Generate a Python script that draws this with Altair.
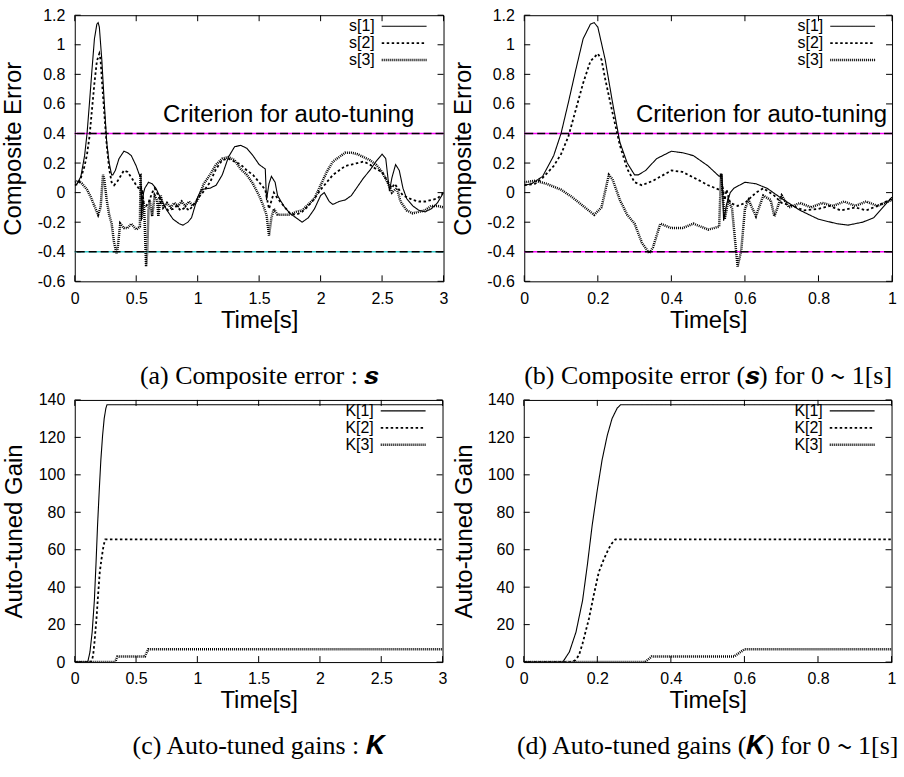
import altair as alt
import pandas as pd

# ---------------- composite error s ----------------
s_names = ["s[1]", "s[2]", "s[3]"]
s1_t = [0, 0.02, 0.05, 0.08, 0.1, 0.12, 0.14, 0.16, 0.18, 0.19, 0.2, 0.22, 0.24, 0.26, 0.28, 0.3, 0.31,
        0.33, 0.36, 0.4, 0.43, 0.46, 0.5, 0.53, 0.538, 0.542, 0.55, 0.56, 0.57, 0.6, 0.63, 0.66, 0.7,
        0.75, 0.8, 0.85, 0.88, 0.92, 0.95, 1.0, 1.03, 1.1, 1.15, 1.2, 1.25, 1.3, 1.35, 1.4, 1.45, 1.5,
        1.55, 1.56, 1.58, 1.6, 1.63, 1.65, 1.7, 1.75, 1.8, 1.85, 1.9, 1.95, 2.0, 2.03, 2.07, 2.1, 2.15,
        2.2, 2.25, 2.3, 2.35, 2.4, 2.45, 2.5, 2.53, 2.56, 2.58, 2.61, 2.64, 2.67, 2.7, 2.75, 2.8, 2.85,
        2.9, 2.95, 3.0]
s1_v = [0.05, 0.06, 0.11, 0.25, 0.40, 0.61, 0.83, 1.04, 1.14, 1.15, 1.12, 0.90, 0.61, 0.34, 0.20, 0.12, 0.12,
        0.15, 0.23, 0.28, 0.27, 0.25, 0.18, 0.11, 0.12, -0.19, -0.08, 0.0, 0.03, 0.07, 0.06, 0.03, -0.04,
        -0.12, -0.18, -0.21, -0.22, -0.20, -0.17, -0.03, 0.02, 0.03, 0.05, 0.12, 0.24, 0.31, 0.32, 0.30, 0.25, 0.19,
        0.16, -0.05, 0.06, 0.11, 0.07, -0.02, -0.09, -0.14, -0.17, -0.20, -0.17, -0.11, -0.02, 0.0, -0.06, -0.08, -0.06,
        -0.05, -0.02, 0.04, 0.10, 0.15, 0.21, 0.26, 0.23, 0.01, 0.10, 0.19, 0.15, 0.03, -0.04, -0.09, -0.12, -0.13,
        -0.11, -0.07, 0.0]

s2_t = [0, 0.03, 0.05, 0.08, 0.1, 0.12, 0.14, 0.16, 0.18, 0.2, 0.21, 0.22, 0.24, 0.26, 0.28, 0.3, 0.32, 0.35,
        0.4, 0.43, 0.47, 0.5, 0.53, 0.54, 0.545, 0.55, 0.56, 0.58, 0.6, 0.63, 0.65, 0.68, 0.7, 0.73, 0.76, 0.8,
        0.83, 0.86, 0.9, 0.93, 0.96, 1.0, 1.05, 1.1, 1.15, 1.2, 1.25, 1.3, 1.35, 1.4, 1.45, 1.5, 1.55, 1.58, 1.62,
        1.65, 1.7, 1.75, 1.8, 1.85, 1.9, 1.95, 2.0, 2.05, 2.1, 2.15, 2.2, 2.25, 2.3, 2.35, 2.4, 2.45, 2.5, 2.55,
        2.58, 2.6, 2.63, 2.67, 2.7, 2.75, 2.8, 2.85, 2.9, 2.95, 3.0]
s2_v = [0.05, 0.06, 0.10, 0.18, 0.26, 0.38, 0.56, 0.74, 0.89, 0.94, 0.90, 0.77, 0.54, 0.32, 0.16, 0.07, 0.05, 0.08,
        0.15, 0.14, 0.09, 0.05, 0.02, 0.03, -0.05, 0.02, -0.07, -0.09, -0.07, 0.0, 0.03, -0.02, -0.07, -0.09, -0.12, -0.11,
        -0.09, -0.12, -0.10, -0.12, -0.09, -0.04, 0.01, 0.07, 0.16, 0.22, 0.23, 0.21, 0.19, 0.15, 0.12, 0.07, 0.02, -0.11, 0.0,
        -0.04, -0.09, -0.14, -0.15, -0.13, -0.09, -0.04, 0.02, 0.07, 0.12, 0.15, 0.18, 0.19, 0.20, 0.21, 0.19, 0.16, 0.14, 0.07,
        0.03, 0.06, 0.03, -0.02, -0.03, -0.05, -0.06, -0.06, -0.05, -0.04, 0.0]

s3_t = [0, 0.03, 0.06, 0.1, 0.13, 0.16, 0.19, 0.21, 0.23, 0.24, 0.26, 0.28, 0.3, 0.32, 0.34, 0.35, 0.37, 0.4,
        0.43, 0.46, 0.5, 0.53, 0.535, 0.545, 0.555, 0.565, 0.58, 0.59, 0.6, 0.61, 0.63, 0.65, 0.67, 0.68, 0.7,
        0.72, 0.75, 0.78, 0.81, 0.84, 0.87, 0.9, 0.93, 0.96, 1.0, 1.05, 1.1, 1.15, 1.2, 1.25, 1.3, 1.35, 1.4,
        1.45, 1.5, 1.53, 1.56, 1.58, 1.6, 1.62, 1.65, 1.7, 1.75, 1.8, 1.85, 1.9, 1.95, 2.0, 2.05, 2.1, 2.15,
        2.2, 2.25, 2.3, 2.35, 2.4, 2.45, 2.5, 2.55, 2.58, 2.62, 2.65, 2.7, 2.75, 2.8, 2.85, 2.9, 2.95, 3.0]
s3_v = [0.07, 0.08, 0.06, 0.02, -0.03, -0.09, -0.15, -0.10, 0.12, 0.09, -0.05, -0.15, -0.21, -0.34, -0.41, -0.37, -0.21, -0.24,
        -0.24, -0.21, -0.25, -0.23, 0.13, -0.18, -0.05, -0.11, -0.50, -0.39, -0.11, -0.05, -0.16, -0.02, -0.05, -0.16, -0.02,
        -0.10, -0.07, -0.10, -0.07, -0.09, -0.06, -0.09, -0.06, -0.09, -0.05, 0.06, 0.12, 0.19, 0.23, 0.24, 0.22, 0.16, 0.12,
        0.06, -0.02, -0.08, -0.15, -0.29, -0.17, -0.11, -0.15, -0.15, -0.15, -0.13, -0.12, -0.08, -0.04, 0.05, 0.14, 0.21, 0.24,
        0.27, 0.27, 0.26, 0.24, 0.22, 0.19, 0.14, 0.06, 0.0, 0.03, -0.06, -0.12, -0.14, -0.13, -0.12, -0.09, -0.09, -0.10]

# ---------------- auto-tuned gains K ----------------
k_names = ["K[1]", "K[2]", "K[3]"]
k1_t = [0, 0.10, 0.106, 0.124, 0.142, 0.16, 0.173, 0.186, 0.2, 0.213, 0.227, 0.24, 0.254, 0.263, 1.0, 3.0]
k1_v = [0, 0, 0, 5.4, 16, 33, 52, 73, 92, 108, 121, 130, 135.6, 137.4, 137.4, 137.4]
k2_t = [0, 0.13, 0.14, 0.15, 0.16, 0.177, 0.19, 0.204, 0.218, 0.231, 0.24, 0.249, 1.0, 3.0]
k2_v = [0, 0, 1, 3.6, 10, 23, 35.5, 48, 55, 60.6, 63.5, 65.5, 65.5, 65.5]
k3_t = [0, 0.33, 0.348, 0.572, 0.6, 1.0, 3.0]
k3_v = [0, 0, 3.0, 3.0, 6.8, 6.8, 6.8]

# ---------------- thresholds, annotation and ticks ----------------
crit_levels = [0.4, -0.4]
crit_label = "Criterion for auto-tuning"
crit_label_y = 0.48
ticks_x_3 = [0, 0.5, 1, 1.5, 2, 2.5, 3]
ticks_x_1 = [0, 0.2, 0.4, 0.6, 0.8, 1]
ticks_y_s = [-0.6, -0.4, -0.2, 0, 0.2, 0.4, 0.6, 0.8, 1, 1.2]
ticks_y_k = [0, 20, 40, 60, 80, 100, 120, 140]

FONT = "Liberation Sans"
SERIF = "Liberation Serif"
DASH = [[1, 0], [2.5, 2.5], [1, 1]]
WIDTH = [1.1, 2.5, 4]
LEG_SYMBOL = "M3,0H12"   # 45 px line sample drawn to the right of the label (symbolSize 100)


def long_df(ts, vs, names):
    rows = []
    for tt, vv, nm in zip(ts, vs, names):
        for a, b in zip(tt, vv):
            rows.append({"t": a, "v": b, "series": nm})
    return pd.DataFrame(rows)


s_df = long_df([s1_t, s2_t, s3_t], [s1_v, s2_v, s3_v], s_names)
k_df = long_df([k1_t, k2_t, k3_t], [k1_v, k2_v, k3_v], k_names)


def panel(df, names, xmax, xticks, yticks, ydom, W, H, ytitle, ytpad, caption, capoff,
          crit_colors=None, text_x=None):
    df = df[df["t"] <= xmax + 1e-9]
    xs = alt.Scale(domain=[0, xmax], nice=False, zero=False)
    ys = alt.Scale(domain=ydom, nice=False, zero=False)
    xaxis = alt.Axis(values=xticks, title="Time[s]", labelExpr="'' + datum.value",
                     labelFlush=False, labelOverlap=False, titlePadding=2, labelPadding=9)
    yaxis = alt.Axis(values=yticks, title=ytitle, labelExpr="'' + datum.value",
                     labelFlush=False, labelOverlap=False, titlePadding=ytpad, labelPadding=10)
    X = lambda: alt.X("t:Q", scale=xs, axis=xaxis)
    Y = lambda: alt.Y("v:Q", scale=ys, axis=yaxis)
    leg = alt.Legend(title=None, orient="none", legendX=W - 85, legendY=3,
                     symbolType=LEG_SYMBOL, symbolSize=100, symbolOffset=0, labelOffset=0,
                     labelAlign="right", labelFont=FONT, labelFontSize=16, labelColor="black",
                     rowPadding=1, padding=0, symbolStrokeColor="black")
    layers = []
    lines = alt.Chart(df).mark_line(color="black", clip=True, strokeCap="butt").encode(
        x=X(), y=Y(),
        strokeDash=alt.StrokeDash("series:O", scale=alt.Scale(domain=names, range=DASH), legend=leg),
        strokeWidth=alt.StrokeWidth("series:O", scale=alt.Scale(domain=names, range=WIDTH), legend=leg),
    )
    if crit_colors is not None:
        cdf = pd.DataFrame({"v": crit_levels, "c": crit_colors})
        layers.append(alt.Chart(cdf).mark_rule(strokeWidth=1.3).encode(
            y=Y(), color=alt.Color("c:N", scale=None)))
        layers.append(alt.Chart(cdf).mark_rule(strokeWidth=1.3, color="black", strokeDash=[8, 4]).encode(
            y=Y()))
    layers.append(lines)
    if text_x is not None:
        tdf = pd.DataFrame({"t": [text_x], "v": [crit_label_y], "label": [crit_label]})
        layers.append(alt.Chart(tdf).mark_text(font=FONT, fontSize=24, align="center",
                                               baseline="alphabetic", color="black").encode(
            x=X(), y=Y(), text="label:N"))
    xt = pd.DataFrame({"t": xticks})
    yt = pd.DataFrame({"v": yticks})
    tick = dict(color="black", strokeWidth=1)
    layers.append(alt.Chart(xt).mark_rule(**tick).encode(
        x=X(), y=alt.value(H), y2=alt.value(H - 6)))
    layers.append(alt.Chart(xt).mark_rule(**tick).encode(
        x=X(), y=alt.value(0), y2=alt.value(6)))
    layers.append(alt.Chart(yt).mark_rule(**tick).encode(
        y=Y(), x=alt.value(0), x2=alt.value(6)))
    layers.append(alt.Chart(yt).mark_rule(**tick).encode(
        y=Y(), x=alt.value(W), x2=alt.value(W - 6)))
    return alt.layer(*layers).properties(
        width=W, height=H,
        title=alt.TitleParams(text=caption, orient="bottom", font=SERIF, fontSize=26,
                              fontWeight="normal", color="black", offset=capoff, anchor="middle"))


pa = panel(s_df, s_names, 3, ticks_x_3, ticks_y_s, [-0.6, 1.2], 370, 267, "Composite Error", 11.5,
           "(a) Composite error : 𝒔", 31, crit_colors=["#ff00ff", "#33cccc"], text_x=1.74)
pb = panel(s_df, s_names, 1, ticks_x_1, ticks_y_s, [-0.6, 1.2], 369, 267, "Composite Error", 11,
           "(b) Composite error (𝒔) for 0 ∼ 1[s]", 31, crit_colors=["#ff00ff", "#ff00ff"], text_x=0.645)
pc = panel(k_df, k_names, 3, ticks_x_3, ticks_y_k, [0, 140], 369, 263, "Auto-tuned Gain", 11.5,
           "(c) Auto-tuned gains : 𝑲", 20)
pd_ = panel(k_df, k_names, 1, ticks_x_1, ticks_y_k, [0, 140], 369, 263, "Auto-tuned Gain", 11,
            "(d) Auto-tuned gains (𝑲) for 0 ∼ 1[s]", 20)

ind = dict(strokeDash="independent", strokeWidth="independent")
top = alt.hconcat(pa, pb, spacing=2).resolve_scale(**ind).resolve_legend(**ind)
bottom = alt.hconcat(pc, pd_, spacing=3.5).resolve_scale(**ind).resolve_legend(**ind)

chart = alt.vconcat(top, bottom, spacing=1).resolve_scale(**ind).resolve_legend(**ind).properties(
    padding={"left": 1, "top": 5, "right": 0, "bottom": 0}, background="white"
).configure_view(stroke="black", strokeWidth=1).configure_axis(
    labelFont=FONT, labelFontSize=16, labelColor="black", titleFont=FONT, titleFontSize=24,
    titleFontWeight="normal", titleColor="black", domain=False, ticks=False, tickSize=0, grid=False
)

chart.save("out.html", embed_options={"renderer": "svg", "actions": False})
